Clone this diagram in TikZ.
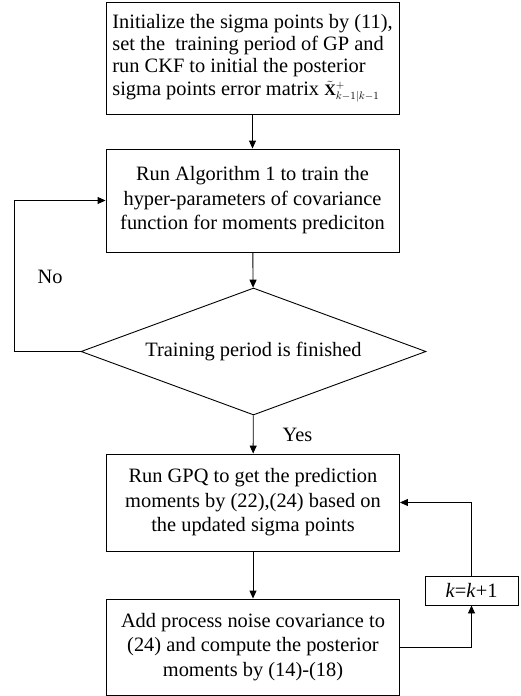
\documentclass[tikz,border=0pt]{standalone}
\usepackage{fontspec}
\setmainfont{Liberation Serif}
\usetikzlibrary{arrows.meta,shapes.geometric}
\tikzset{
  box/.style={draw, line width=0.9pt, align=center, minimum width=293pt, inner sep=5pt, font=\fontsize{20.4}{24.5}\selectfont},
  kinit/.style={box, align=left, font=\fontsize{20.4}{22}\selectfont},
  kstep/.style={box},
  kdecision/.style={draw, line width=0.9pt, diamond, aspect=2.7, minimum width=345pt, minimum height=127pt, inner sep=0pt, font=\fontsize{20.4}{24.5}\selectfont},
  kcount/.style={draw, line width=0.9pt, minimum width=93pt, minimum height=29pt, inner sep=2pt, font=\fontsize{20.4}{24.5}\selectfont},
  klabel/.style={font=\fontsize{20.4}{24.5}\selectfont, inner sep=1pt},
  flow/.style={-{Triangle[length=8pt, width=7pt]}, line width=0.9pt},
}
\begin{document}
\begin{tikzpicture}[x=1pt, y=-1pt]
    \useasboundingbox (0,0) rectangle (520,696);
    \node[kinit, minimum height=112pt] (init) at (252.5,58) {Initialize the sigma points by (11),\\ set the\ \ training period of GP and\\ run CKF to initial the posterior\\[1pt] sigma points error matrix {\fontsize{16}{18}\selectfont$\tilde{\mathbf{X}}^{+}_{k-1|k-1}$}};
    \node[kstep, minimum height=103pt] (train) at (252.5,200.5) {Run Algorithm 1 to train the\\ hyper-parameters of covariance\\ function for moments prediciton};
    \node[kdecision] (finish) at (253.5,351.5) {Training period is finished};
    \node[kstep, minimum height=97pt] (gpq) at (253,502.5) {Run GPQ to get the prediction\\ moments by (22),(24) based on\\ the updated sigma points};
    \node[kstep, minimum height=96pt] (post) at (253,647) {Add process noise covariance to\\ (24) and compute the posterior\\ moments by (14)-(18)};
    \node[kcount] (incr) at (471.5,590.5) {\textit{k}=\textit{k}+1};
    \node[klabel] (no) at (50,277) {No};
    \draw[flow] (init) -- (train);
    \draw[flow] (train) -- (finish);
    \draw[flow] (finish) -- (gpq) node[klabel, midway, right=28pt]{Yes};
    \draw[flow] (finish.west) -- ++(-66,0) |- (train.west);
    \draw[flow] (gpq) -- (post);
    \draw[flow] (post.east) -| (incr.south);
    \draw[flow] (incr.north) |- (gpq.east);
  \end{tikzpicture}
\end{document}
